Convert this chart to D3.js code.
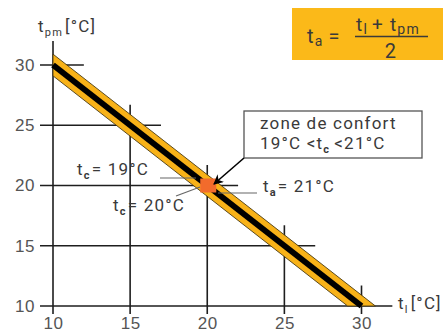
<!DOCTYPE html>
<html>
<head>
<meta charset="utf-8">
<script src="https://cdn.jsdelivr.net/npm/d3@7"></script>
<style>
  body { margin: 0; background: #fff; }
  svg { display: block; font-family: Roboto, "Noto Sans", sans-serif; }
  .tick text { fill: #555; font-size: 17px; letter-spacing: 0.5px; }
  .lbl { fill: #3a3a3a; font-size: 17px; letter-spacing: 1.2px; }
</style>
</head>
<body>
<div id="chart"></div>
<script>
// valeurs
let xTicks = [10, 15, 20, 25, 30];
let yTicks = [30, 25, 20, 15, 10];
let confortLine = [[10, 30], [30, 10]];   // t_l + t_pm = 40 (t_a = 20)
let bandHalf = 0.9;                       // demi-largeur de la bande
let confortPoint = [20, 20];
let gridExt = 2;                          // dépassement des lignes au-delà de la diagonale

let W = 445, H = 334;

let svg = d3.select("#chart").append("svg")
  .attr("width", W)
  .attr("height", H);

let x = d3.scaleLinear().domain([10, 30]).range([53, 361.5]);
let y = d3.scaleLinear().domain([10, 30]).range([306, 65]);

let gridColor = "#1e1e1e";

//lignes horizontales (partielles)
svg.selectAll(".hgrid")
  .data(yTicks)
  .enter()
  .append("line")
  .attr("class", "hgrid")
  .attr("x1", x(10) - 13)
  .attr("x2", d => x(40 - d + gridExt))
  .attr("y1", d => y(d))
  .attr("y2", d => y(d))
  .attr("stroke", gridColor)
  .attr("stroke-width", 1.6);

//lignes verticales (partielles)
svg.selectAll(".vgrid")
  .data(xTicks)
  .enter()
  .append("line")
  .attr("class", "vgrid")
  .attr("x1", d => x(d))
  .attr("x2", d => x(d))
  .attr("y1", d => y(40 - d + (d === 10 ? gridExt : 1.7)))
  .attr("y2", y(10) + 8)
  .attr("stroke", gridColor)
  .attr("stroke-width", 1.6);

//bande de confort
let band = [
  [confortLine[0][0], confortLine[0][1] + bandHalf],
  [confortLine[1][0] + bandHalf, confortLine[1][1]],
  [confortLine[1][0] - bandHalf, confortLine[1][1]],
  [confortLine[0][0], confortLine[0][1] - bandHalf]
];
svg.append("path")
  .attr("d", d3.line().x(d => x(d[0])).y(d => y(d[1]))(band) + "Z")
  .attr("fill", "#f8b218")
  .attr("stroke", "#4a3a10")
  .attr("stroke-width", 0.9);

svg.append("path")
  .attr("d", d3.line().x(d => x(d[0])).y(d => y(d[1]))(confortLine))
  .attr("stroke", "#000")
  .attr("stroke-width", 6);

//lignes de rappel
let leaders = [
  [[160, 178], [196, 178]],
  [[176, 196], [200, 187]],
  [[218, 193], [257, 193]]
];
svg.selectAll(".leader")
  .data(leaders)
  .enter()
  .append("line")
  .attr("x1", d => d[0][0]).attr("y1", d => d[0][1])
  .attr("x2", d => d[1][0]).attr("y2", d => d[1][1])
  .attr("stroke", "#666")
  .attr("stroke-width", 1.2);

//point de confort
svg.append("rect")
  .attr("x", x(confortPoint[0]) - 7)
  .attr("y", y(confortPoint[1]) - 7)
  .attr("width", 16)
  .attr("height", 14)
  .attr("fill", "#f26b2c");

//axes (étiquettes)
let yAxis = svg.append("g")
  .attr("transform", `translate(${x(10)},0)`)
  .call(d3.axisLeft(y).tickValues(yTicks).tickSize(0).tickPadding(18));
yAxis.select(".domain").remove();

let xAxis = svg.append("g")
  .attr("transform", `translate(0,${y(10)})`)
  .call(d3.axisBottom(x).tickValues(xTicks).tickSize(0).tickPadding(11));
xAxis.select(".domain").remove();

//titres des axes
let ty = svg.append("text").attr("class", "lbl").attr("x", 38).attr("y", 32);
ty.append("tspan").text("t");
ty.append("tspan").attr("font-size", "11px").attr("dy", 4).text("pm");
ty.append("tspan").attr("dy", -4).attr("dx", 2).text("[°C]");

let tx = svg.append("text").attr("class", "lbl").attr("x", 398).attr("y", 309);
tx.append("tspan").text("t");
tx.append("tspan").attr("font-size", "11px").attr("dy", 4).text("l");
tx.append("tspan").attr("dy", -4).attr("dx", 2).text("[°C]");

//étiquettes t_c, t_a
function subLabel(px, py, sub, rest) {
  let t = svg.append("text").attr("class", "lbl").attr("x", px).attr("y", py);
  t.append("tspan").text("t");
  t.append("tspan").attr("font-size", "11px").attr("font-weight", "bold").attr("dy", 4).text(sub);
  t.append("tspan").attr("dy", -4).attr("dx", 1).text("= " + rest);
}
subLabel(77, 175, "c", "19°C");
subLabel(113, 211, "c", "20°C");
subLabel(263, 192, "a", "21°C");

//encadré zone de confort
svg.append("rect")
  .attr("x", 244).attr("y", 111)
  .attr("width", 178).attr("height", 47)
  .attr("fill", "#fff")
  .attr("stroke", "#555")
  .attr("stroke-width", 1.3);

svg.append("text").attr("class", "lbl")
  .attr("x", 260).attr("y", 129)
  .text("zone de confort");
let l2 = svg.append("text").attr("class", "lbl").attr("x", 260).attr("y", 149);
l2.append("tspan").text("19°C <t");
l2.append("tspan").attr("font-size", "11px").attr("font-weight", "bold").attr("dy", 4).text("c");
l2.append("tspan").attr("dy", -4).attr("dx", 4).text("<21°C");

//flèche
svg.append("defs").append("marker")
  .attr("id", "arrow")
  .attr("viewBox", "0 0 10 10")
  .attr("refX", 9).attr("refY", 5)
  .attr("markerWidth", 12).attr("markerHeight", 10)
  .attr("markerUnits", "userSpaceOnUse")
  .attr("orient", "auto")
  .append("path")
  .attr("d", "M0,0 L10,5 L0,10 L3,5 Z")
  .attr("fill", "#000");

svg.append("line")
  .attr("x1", 244).attr("y1", 158)
  .attr("x2", 214).attr("y2", 184)
  .attr("stroke", "#000")
  .attr("stroke-width", 1.6)
  .attr("marker-end", "url(#arrow)");

//formule
svg.append("rect")
  .attr("x", 292).attr("y", 8)
  .attr("width", 151).attr("height", 52)
  .attr("fill", "#fbb919");

let f1 = svg.append("text").attr("class", "lbl").attr("x", 307).attr("y", 43).style("font-size", "20px");
f1.append("tspan").text("t");
f1.append("tspan").attr("font-size", "14px").attr("dy", 3).text("a");
f1.append("tspan").attr("dy", -3).attr("dx", 5).text("=");

let f2 = svg.append("text").attr("class", "lbl").attr("x", 356).attr("y", 31).style("font-size", "19px");
f2.append("tspan").text("t");
f2.append("tspan").attr("font-size", "14px").attr("dy", 3).text("l");
f2.append("tspan").attr("dy", -3).attr("dx", 4).text("+ t");
f2.append("tspan").attr("font-size", "14px").attr("dy", 3).text("pm");

svg.append("line")
  .attr("x1", 355).attr("x2", 428)
  .attr("y1", 36.5).attr("y2", 36.5)
  .attr("stroke", "#3a3a3a").attr("stroke-width", 1.3);

svg.append("text").attr("class", "lbl")
  .attr("x", 391).attr("y", 58)
  .attr("text-anchor", "middle")
  .style("font-size", "20px")
  .text("2");
</script>
</body>
</html>
